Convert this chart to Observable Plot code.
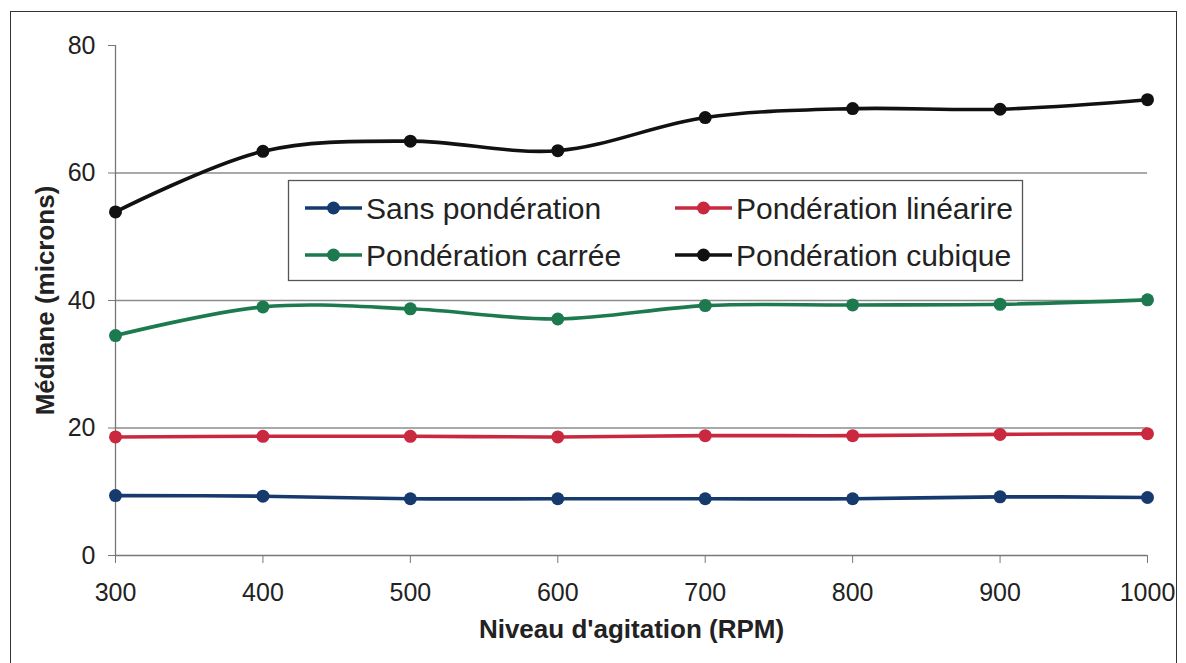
<!DOCTYPE html>
<html>
<head>
<meta charset="utf-8">
<script src="https://cdn.jsdelivr.net/npm/d3@7"></script>
<script src="https://cdn.jsdelivr.net/npm/@observablehq/plot@0.6"></script>
<style>
  html, body { margin: 0; padding: 0; background: #fff; }
  #wrap { position: relative; width: 1186px; height: 663px; overflow: hidden; font-family: "Liberation Sans", Arial, sans-serif; }
  #frame { position: absolute; left: 10px; top: 11px; width: 1167px; height: 670px; border: 1.5px solid #333; box-sizing: border-box; pointer-events: none; }
  #legend { position: absolute; left: 0; top: 0; }
</style>
</head>
<body>
<div id="wrap"><div id="frame"></div></div>
<script>
// ---- data ----
const rpm = [300, 400, 500, 600, 700, 800, 900, 1000];
const sansPonderation = [9.4, 9.3, 8.9, 8.9, 8.9, 8.9, 9.2, 9.1];
const ponderationLineaire = [18.6, 18.7, 18.7, 18.6, 18.8, 18.8, 19.0, 19.1];
const ponderationCarree = [34.5, 39.0, 38.7, 37.1, 39.2, 39.3, 39.4, 40.1];
const ponderationCubique = [53.9, 63.4, 65.0, 63.5, 68.7, 70.1, 70.0, 71.5];
const seriesNames = ["Sans pondération", "Pondération linéarire", "Pondération carrée", "Pondération cubique"];
const seriesColors = ["#173a6e", "#c9283e", "#1d7a4f", "#111111"];
const yTicks = [0, 20, 40, 60, 80];
const gridTicks = [20, 40, 60];
const xTitle = "Niveau d'agitation (RPM)";
const yTitle = "Médiane (microns)";

const seriesValues = [sansPonderation, ponderationLineaire, ponderationCarree, ponderationCubique];
const data = [];
seriesNames.forEach((s, i) => rpm.forEach((r, j) => data.push({series: s, rpm: r, value: seriesValues[i][j]})));

const font = "Liberation Sans, Arial, sans-serif";

const chart = Plot.plot({
  width: 1186,
  height: 663,
  marginLeft: 115,
  marginRight: 39,
  marginTop: 45,
  marginBottom: 108,
  style: {fontFamily: font, background: "transparent", color: "#222"},
  x: {domain: [300, 1000]},
  y: {domain: [0, 80]},
  color: {domain: seriesNames, range: seriesColors},
  marks: [
    Plot.ruleY(gridTicks, {stroke: "#8c8c8c", strokeWidth: 1.3}),
    Plot.ruleY([0], {stroke: "#777", strokeWidth: 1.3}),
    Plot.ruleX([300], {stroke: "#777", strokeWidth: 1.3}),
    Plot.axisY(yTicks, {tickSize: 7, tickPadding: 13, fontSize: 25, stroke: "#777", fill: "#222", label: null}),
    Plot.axisX(rpm, {tickSize: 8, tickPadding: 20, fontSize: 25, stroke: "#777", fill: "#222", label: null, tickFormat: d => String(d)}),
    Plot.line(data, {x: "rpm", y: "value", z: "series", stroke: "series", strokeWidth: 3.6, curve: "catmull-rom"}),
    Plot.dot(data, {x: "rpm", y: "value", fill: "series", r: 6.5}),
    Plot.text([xTitle], {frameAnchor: "bottom", lineAnchor: "middle", dy: 74, fontSize: 26, fontWeight: "bold", fill: "#222"}),
    Plot.text([yTitle], {frameAnchor: "left", textAnchor: "middle", dx: -70, rotate: -90, fontSize: 26, fontWeight: "bold", fill: "#222"})
  ]
});
const wrap = document.getElementById("wrap");
wrap.insertBefore(chart, wrap.firstChild);

// ---- legend (inside plot area) ----
const lg = d3.create("svg").attr("id", "legend").attr("width", 1186).attr("height", 663);
lg.append("rect").attr("x", 288.5).attr("y", 180.5).attr("width", 734).attr("height", 100)
  .attr("fill", "#fff").attr("stroke", "#555").attr("stroke-width", 1.3);
const pos = [[305, 208], [675, 208], [305, 255], [675, 255]];
seriesNames.forEach((s, i) => {
  const [x0, y0] = pos[i];
  const g = lg.append("g");
  g.append("line").attr("x1", x0).attr("x2", x0 + 57).attr("y1", y0).attr("y2", y0)
    .attr("stroke", seriesColors[i]).attr("stroke-width", 3.6);
  g.append("circle").attr("cx", x0 + 28.5).attr("cy", y0).attr("r", 6.5).attr("fill", seriesColors[i]);
  g.append("text").attr("x", x0 + 61).attr("y", y0).attr("dy", "0.35em")
    .attr("font-family", font).attr("font-size", 30).attr("fill", "#222").text(s);
});
wrap.appendChild(lg.node());
</script>
</body>
</html>
